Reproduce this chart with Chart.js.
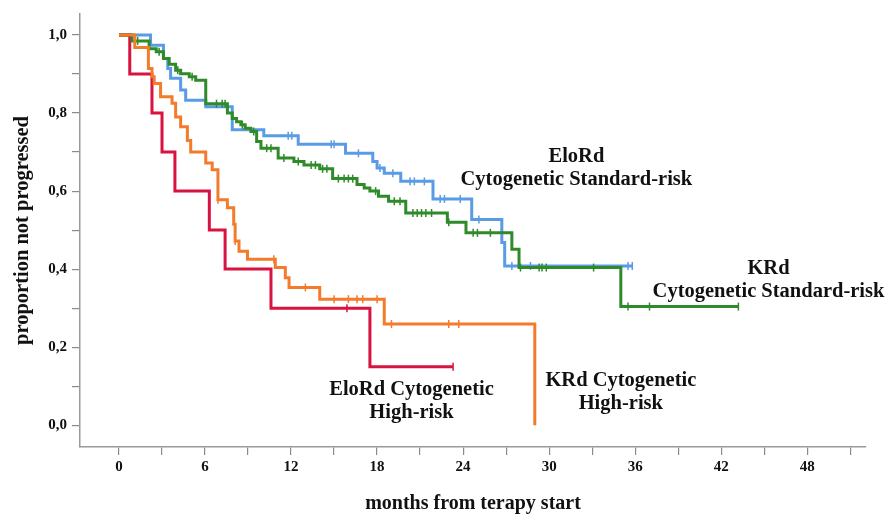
<!DOCTYPE html>
<html>
<head>
<meta charset="utf-8">
<script src="https://cdn.jsdelivr.net/npm/chart.js@4/dist/chart.umd.min.js"></script>
<style>
    html, body { margin: 0; padding: 0; background: #fff; }
    #wrap { width: 886px; height: 517px; }
</style>
</head>
<body>
<div id="wrap"><canvas id="km" width="886" height="517"></canvas></div>
<script>
// Kaplan-Meier steps: month where the step happens, proportion after it
const eloStdTimes = [0, 2.2, 3.1, 3.4, 3.6, 4.3, 4.65, 6.05, 7.9, 10.1, 12.5, 15.8, 17.7, 18.0, 18.5, 19.65, 21.9, 24.6, 26.7, 26.9, 35.8]
const eloStdValues = [1.0, 0.974, 0.94, 0.914, 0.889, 0.859, 0.833, 0.816, 0.757, 0.742, 0.72, 0.697, 0.676, 0.659, 0.646, 0.625, 0.58, 0.527, 0.468, 0.408, 0.408]
const eloStdCensored = [11.8, 12.05, 14.8, 15.0, 16.7, 18.2, 19.1, 20.3, 20.6, 21.3, 22.4, 22.7, 23.8, 25.1, 27.4, 28.7, 35.5, 35.8]

const krdStdTimes = [0, 0.9, 2.1, 2.6, 3.1, 3.5, 3.95, 4.3, 4.9, 5.35, 6.05, 7.56, 7.9, 8.2, 8.5, 8.8, 9.2, 9.6, 9.9, 11.1, 12.2, 12.9, 14.0, 14.9, 16.6, 17.1, 17.5, 18.1, 18.8, 20.0, 22.9, 24.2, 27.4, 27.9, 35.0, 43.2]
const krdStdValues = [1.0, 0.985, 0.965, 0.957, 0.94, 0.925, 0.91, 0.901, 0.893, 0.884, 0.824, 0.80, 0.786, 0.778, 0.77, 0.761, 0.753, 0.727, 0.71, 0.685, 0.676, 0.667, 0.657, 0.632, 0.617, 0.608, 0.60, 0.587, 0.574, 0.544, 0.52, 0.493, 0.451, 0.404, 0.304, 0.304]
const krdStdCensored = [1.3, 2.8, 4.1, 5.1, 6.8, 7.2, 7.4, 8.6, 9.4, 10.3, 10.6, 11.5, 12.5, 13.4, 13.7, 14.2, 14.5, 15.3, 15.7, 16.0, 16.3, 17.9, 19.2, 19.6, 20.5, 20.8, 21.1, 21.4, 21.8, 23.0, 24.7, 25.0, 25.9, 28.0, 29.3, 29.5, 29.8, 33.1, 35.5, 37.0, 43.2]

const eloHighTimes = [0, 0.75, 2.3, 3.0, 3.9, 6.3, 7.4, 10.6, 17.5, 23.3]
const eloHighValues = [1.0, 0.9, 0.8, 0.7, 0.6, 0.5, 0.4, 0.3, 0.15, 0.15]
const eloHighCensored = [15.9, 23.3]

const krdHighTimes = [0, 1.1, 2.05, 2.3, 2.45, 2.9, 3.7, 3.95, 4.3, 4.77, 5.0, 6.05, 6.5, 6.9, 7.56, 8.0, 8.1, 8.37, 8.96, 10.9, 11.6, 11.86, 14.0, 18.5, 29.0]
const krdHighValues = [1.0, 0.968, 0.914, 0.893, 0.876, 0.842, 0.825, 0.79, 0.765, 0.73, 0.70, 0.672, 0.655, 0.578, 0.557, 0.515, 0.472, 0.446, 0.425, 0.404, 0.378, 0.353, 0.323, 0.259, 0.0]
const krdHighCensored = [6.9, 8.1, 10.8, 13.0, 15.0, 16.0, 16.6, 17.0, 18.0, 19.0, 23.0, 23.7]

const xTicks = [0, 3, 6, 9, 12, 15, 18, 21, 24, 27, 30, 33, 36, 39, 42, 45, 48, 51]
const yTicks = [0, 0.1, 0.2, 0.3, 0.4, 0.5, 0.6, 0.7, 0.8, 0.9, 1.0]

const curveLabels = [
    { lines: ["EloRd", "Cytogenetic Standard-risk"], x: 31.9, y: 0.689 },
    { lines: ["KRd", "Cytogenetic Standard-risk"], x: 45.3, y: 0.402 },
    { lines: ["EloRd Cytogenetic", "High-risk"], x: 20.4, y: 0.09 },
    { lines: ["KRd Cytogenetic", "High-risk"], x: 35.0, y: 0.115 }
]

const serif = "'Liberation Serif', 'Times New Roman', serif"

function stepPoints(times, values) {
    return times.map((t, i) => ({ x: t, y: values[i] }))
}

function censorPoints(censored, times, values) {
    return censored.map(t => {
        let v = values[0]
        for (let i = 0; i < times.length; i++) {
            if (times[i] <= t) v = values[i]
        }
        return { x: t, y: v }
    })
}

function curve(label, times, values, color) {
    return {
        type: "line",
        label: label,
        data: stepPoints(times, values),
        stepped: true,
        borderColor: color,
        borderWidth: 3,
        pointRadius: 0,
        fill: false
    }
}

function ticksFor(label, censored, times, values, color) {
    return {
        type: "scatter",
        label: label,
        data: censorPoints(censored, times, values),
        showLine: false,
        pointStyle: "line",
        rotation: 90,
        pointRadius: 4,
        borderColor: color,
        borderWidth: 1.5
    }
}

const orange = "#f47a2c"
const green = "#2f8a2a"
const red = "#d8133f"
const blue = "#5a9be6"

const labelPlugin = {
    id: "curveLabels",
    afterDatasetsDraw(chart) {
        const ctx = chart.ctx
        const xs = chart.scales.x
        const ys = chart.scales.y
        ctx.save()
        ctx.fillStyle = "#111"
        ctx.font = "bold 20.5px " + serif
        ctx.textAlign = "center"
        ctx.textBaseline = "middle"
        curveLabels.forEach(lab => {
            const px = xs.getPixelForValue(lab.x)
            const py = ys.getPixelForValue(lab.y)
            lab.lines.forEach((line, i) => ctx.fillText(line, px, py + i * 23))
        })
        ctx.restore()
    }
}

new Chart(document.getElementById("km"), {
    data: {
        datasets: [
            curve("KRd high", krdHighTimes, krdHighValues, orange),
            ticksFor("KRd high censored", krdHighCensored, krdHighTimes, krdHighValues, orange),
            curve("KRd std", krdStdTimes, krdStdValues, green),
            ticksFor("KRd std censored", krdStdCensored, krdStdTimes, krdStdValues, green),
            curve("EloRd high", eloHighTimes, eloHighValues, red),
            ticksFor("EloRd high censored", eloHighCensored, eloHighTimes, eloHighValues, red),
            curve("EloRd std", eloStdTimes, eloStdValues, blue),
            ticksFor("EloRd std censored", eloStdCensored, eloStdTimes, eloStdValues, blue)
        ]
    },
    options: {
        responsive: false,
        devicePixelRatio: 1,
        animation: false,
        layout: { padding: { top: 12, right: 20, left: 0, bottom: 0 } },
        plugins: { legend: { display: false }, tooltip: { enabled: false } },
        scales: {
            x: {
                type: "linear",
                min: -2.72,
                max: 52.1,
                afterFit: scale => { scale.height = 70 },
                afterBuildTicks: scale => { scale.ticks = xTicks.map(v => ({ value: v })) },
                border: { color: "#9a9a9a", width: 1.5 },
                grid: { drawOnChartArea: false, tickLength: 8, color: "#8a8a8a", lineWidth: 1.2 },
                ticks: {
                    padding: 3,
                    color: "#111",
                    font: { family: serif, size: 15, weight: "bold" },
                    callback: v => (v % 6 === 0 && v <= 48) ? String(v) : ""
                },
                title: {
                    display: true,
                    text: "months from terapy start",
                    color: "#111",
                    font: { family: serif, size: 20, weight: "bold" },
                    padding: { top: 0, bottom: 1 }
                }
            },
            y: {
                type: "linear",
                min: -0.056,
                max: 1.054,
                afterFit: scale => { scale.width = 80 },
                afterBuildTicks: scale => { scale.ticks = yTicks.map(v => ({ value: v })) },
                border: { color: "#9a9a9a", width: 1.5 },
                grid: { drawOnChartArea: false, tickLength: 8, color: "#8a8a8a", lineWidth: 1.2 },
                ticks: {
                    padding: 5,
                    color: "#111",
                    font: { family: serif, size: 15, weight: "bold" },
                    callback: v => (Math.round(v * 10) % 2 === 0) ? v.toFixed(1).replace(".", ",") : ""
                },
                title: {
                    display: true,
                    text: "proportion not progressed",
                    color: "#111",
                    font: { family: serif, size: 20.5, weight: "bold" },
                    padding: { top: 10, bottom: 0 }
                }
            }
        }
    },
    plugins: [labelPlugin]
})
</script>
</body>
</html>
